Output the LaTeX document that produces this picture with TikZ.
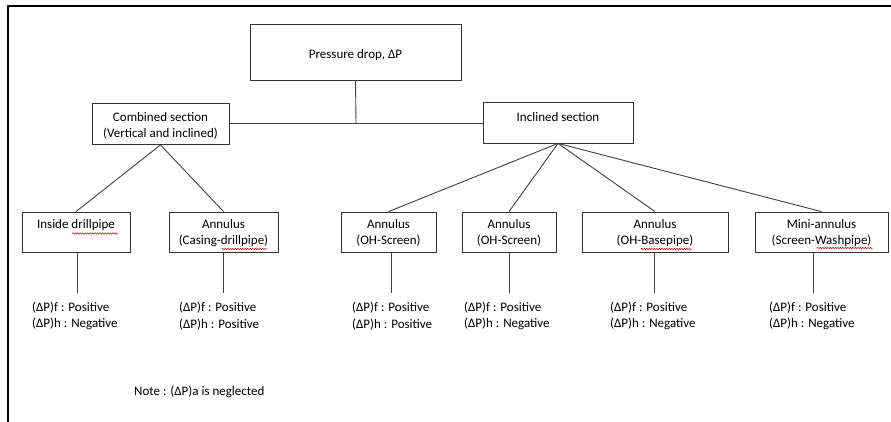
\documentclass[tikz,border=0pt]{standalone}
\usepackage{fontspec}
\setmainfont{Carlito}
\usetikzlibrary{decorations.pathmorphing}
\begin{document}
\begin{tikzpicture}[x=1pt,y=-1pt,
  box/.style={draw=black!80, line width=0.8pt, rectangle, inner sep=0pt},
  conn/.style={draw=black!75, line width=0.9pt},
  txt/.style={font=\fontsize{13}{16.5}\selectfont, inner sep=0pt, align=center},
  res/.style={txt, align=left, anchor=west},
  squig/.style={draw=red!85!black, line width=0.5pt, decorate, decoration={snake, amplitude=0.7pt, segment length=2.5pt}}]
\useasboundingbox (0,0) rectangle (891,422);
\draw[line width=1.5pt] (8,422) -- (8,6) -- (891,6);

% boxes
\node[box, minimum width=211pt, minimum height=56pt] (P) at (355.5,52) {};
\node[box, minimum width=137pt, minimum height=41pt] (C) at (160.5,124) {};
\node[box, minimum width=150pt, minimum height=41pt] (I) at (558,122.5) {};
\node[box, minimum width=108pt, minimum height=40pt] (B1) at (76,232) {};
\node[box, minimum width=109pt, minimum height=40pt] (B2) at (223.5,232) {};
\node[box, minimum width=95pt, minimum height=40pt] (B3) at (388.5,232) {};
\node[box, minimum width=94pt, minimum height=40pt] (B4) at (509,232) {};
\node[box, minimum width=146pt, minimum height=40pt] (B5) at (655,232) {};
\node[box, minimum width=133pt, minimum height=40pt] (B6) at (821.5,232) {};

% box texts
\node[txt] (Pt) at (355.5,55) {Pressure drop, ΔP};
\node[txt] (Ct) at (160.5,126) {Combined section\\(Vertical and inclined)};
\node[txt] (It) at (558,117) {Inclined section};
\node[txt] (B1t) at (76,225) {Inside drillpipe};
\node[txt] (B2t) at (223.5,233) {Annulus\\(Casing-drillpipe)};
\node[txt] (B3t) at (388.5,233) {Annulus\\(OH-Screen)};
\node[txt] (B4t) at (509,233) {Annulus\\(OH-Screen)};
\node[txt] (B5t) at (655,233) {Annulus\\(OH-Basepipe)};
\node[txt] (B6t) at (821.5,233) {Mini-annulus\\(Screen-Washpipe)};

% spell-check squiggles
\draw[squig] (72,233.5) -- (118,233.5);
\draw[squig] (222,249) -- (267,249);
\draw[squig] (641,249) -- (692,249);
\draw[squig] (817,248) -- (873,248);

% top connectors
\coordinate (j) at (356,123);
\draw[conn] (P.south) -- (j);
\draw[conn] (C.east |- j) -- (I.west |- j);

% branches
\draw[conn] (C.south) -- (B1.north);
\draw[conn] (C.south) -- (B2.north);
\draw[conn] (I.south) -- (B3.north);
\draw[conn] (I.south) -- (B4.north);
\draw[conn] (I.south) -- (B5.north);
\draw[conn] (I.south) -- (B6.north);

% stubs
\coordinate (s1) at (77,293);
\coordinate (s2) at (223,293);
\coordinate (s3) at (391,293);
\coordinate (s4) at (509,293);
\coordinate (s5) at (654,293);
\coordinate (s6) at (813,293);
\draw[conn] (B1.south -| s1) -- (s1);
\draw[conn] (B2.south -| s2) -- (s2);
\draw[conn] (B3.south -| s3) -- (s3);
\draw[conn] (B4.south -| s4) -- (s4);
\draw[conn] (B5.south -| s5) -- (s5);
\draw[conn] (B6.south -| s6) -- (s6);

% results
\node[res] (R1) at (32,316) {(ΔP)f : Positive\\(ΔP)h : Negative};
\node[res] (R2) at (179,316) {(ΔP)f : Positive\\(ΔP)h : Positive};
\node[res] (R3) at (352,316) {(ΔP)f : Positive\\(ΔP)h : Positive};
\node[res] (R4) at (464,316) {(ΔP)f : Positive\\(ΔP)h : Negative};
\node[res] (R5) at (610,316) {(ΔP)f : Positive\\(ΔP)h : Negative};
\node[res] (R6) at (769,316) {(ΔP)f : Positive\\(ΔP)h : Negative};

\node[txt, anchor=west] (note) at (134,392) {Note : (ΔP)a is neglected};
\end{tikzpicture}
\end{document}
